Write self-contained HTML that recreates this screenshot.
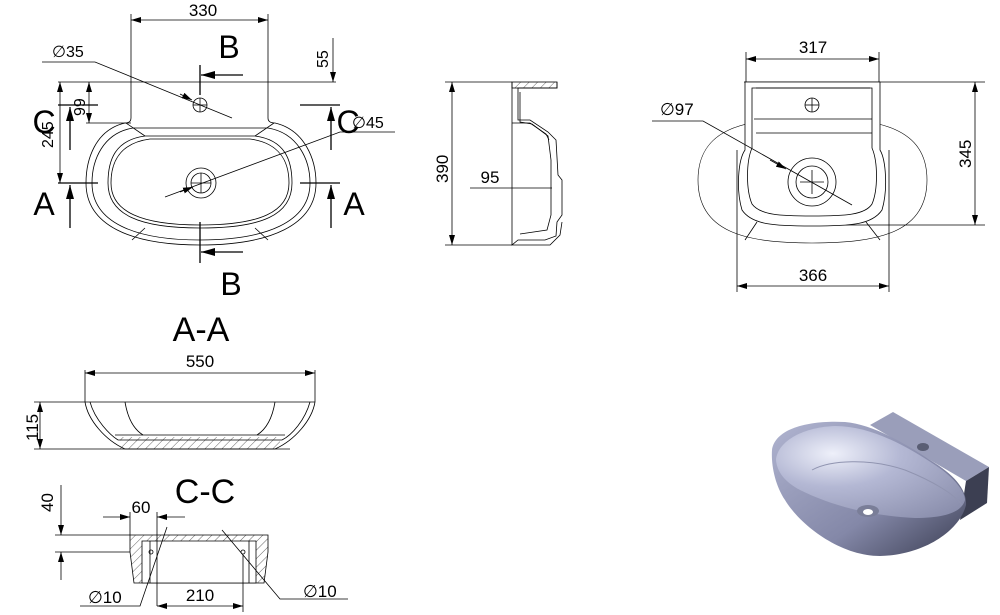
<!DOCTYPE html>
<html><head><meta charset="utf-8"><style>
html,body{margin:0;padding:0;background:#fff;}
svg{display:block;}
text{font-family:"Liberation Sans",sans-serif;fill:#000;}
</style></head><body>
<svg width="1000" height="615" viewBox="0 0 1000 615" xmlns="http://www.w3.org/2000/svg">
<defs>
<marker id="ar" viewBox="0 0 10 6" refX="10" refY="3" markerWidth="10" markerHeight="6" orient="auto-start-reverse" markerUnits="userSpaceOnUse"><path d="M0,0 L10,3 L0,6 z" fill="#000"/></marker>
<marker id="big" viewBox="0 0 14 8" refX="14" refY="4" markerWidth="16" markerHeight="8" orient="auto" markerUnits="userSpaceOnUse"><path d="M0,0 L14,4 L0,8 z" fill="#000"/></marker>
<radialGradient id="g1" cx="0.3" cy="0.3" r="0.9"><stop offset="0" stop-color="#eef0fa"/><stop offset="0.4" stop-color="#b4b8d4"/><stop offset="1" stop-color="#8a8eac"/></radialGradient>
<linearGradient id="g2" x1="0" y1="0" x2="1" y2="1"><stop offset="0" stop-color="#b0b4d0"/><stop offset="0.6" stop-color="#8488a8"/><stop offset="1" stop-color="#3a3d52"/></linearGradient>
<pattern id="h" width="6" height="6" patternUnits="userSpaceOnUse" patternTransform="rotate(45)"><line x1="0" y1="0" x2="0" y2="6" stroke="#000" stroke-width="0.6"/></pattern>
</defs>
<g fill="none" stroke="#000" stroke-width="0.8">
<!-- TOP VIEW -->
<line x1="131" y1="14" x2="131" y2="118"/><line x1="268" y1="14" x2="268" y2="118"/>
<line x1="131" y1="20" x2="268" y2="20" marker-start="url(#ar)" marker-end="url(#ar)"/>
<path d="M131,118 Q131,123 125,123 C95,130 86,160 86,183 C86,225 130,245 200,245 C270,245 316,225 316,183 C316,160 305,130 275,123 Q268,123 268,118"/>
<path d="M133,128 C103,133 92,160 92,183 C92,222 134,240 200,240 C266,240 310,222 310,183 C310,160 298,133 268,128 Z"/>
<path d="M145,136 C115,140 108,160 108,183 C108,215 140,228 200,228 C262,228 292,215 292,183 C292,160 285,140 255,136 Z"/>
<path d="M150,139 C120,143 111,162 111,183 C111,212 142,225 200,225 C260,225 289,212 289,183 C289,162 280,143 250,139 Z"/>
<line x1="126" y1="123" x2="145" y2="136"/><line x1="274" y1="123" x2="255" y2="136"/>
<line x1="132" y1="240" x2="145" y2="228"/><line x1="268" y1="240" x2="255" y2="228"/>
<circle cx="201" cy="183" r="15"/><circle cx="201" cy="183" r="10"/>
<line x1="191" y1="183" x2="211" y2="183"/><line x1="201" y1="173" x2="201" y2="193"/>
<circle cx="200" cy="105" r="7"/>
<line x1="193" y1="105" x2="207" y2="105"/><line x1="200" y1="98" x2="200" y2="112"/>
<line x1="200" y1="65" x2="200" y2="95" stroke-width="1.3"/>
<line x1="243" y1="75" x2="201" y2="75" stroke-width="1.3" marker-end="url(#big)"/>
<line x1="200" y1="222" x2="200" y2="263" stroke-width="1.3"/>
<line x1="243" y1="252" x2="201" y2="252" stroke-width="1.3" marker-end="url(#big)"/>
<line x1="58" y1="183" x2="98" y2="183" stroke-width="1.3"/><line x1="300" y1="183" x2="340" y2="183" stroke-width="1.3"/>
<line x1="70" y1="228" x2="70" y2="185" stroke-width="1.3" marker-end="url(#big)"/>
<line x1="331" y1="228" x2="331" y2="185" stroke-width="1.3" marker-end="url(#big)"/>
<line x1="58" y1="105" x2="98" y2="105" stroke-width="1.3"/><line x1="300" y1="105" x2="340" y2="105" stroke-width="1.3"/>
<line x1="70" y1="150" x2="70" y2="107" stroke-width="1.3" marker-end="url(#big)"/>
<line x1="331" y1="150" x2="331" y2="107" stroke-width="1.3" marker-end="url(#big)"/>
<line x1="58" y1="82" x2="336" y2="82"/>
<line x1="333" y1="38" x2="333" y2="82" marker-end="url(#ar)"/>
<line x1="60" y1="82" x2="60" y2="183" marker-start="url(#ar)" marker-end="url(#ar)"/>
<line x1="89" y1="82" x2="89" y2="123" marker-start="url(#ar)" marker-end="url(#ar)"/>
<line x1="86" y1="123" x2="131" y2="123"/>
<polyline points="42,62 95,62 232,118"/>
<line x1="180" y1="94" x2="192" y2="100" marker-end="url(#ar)"/>
<polyline points="395,132 340,132 165,197"/>
<line x1="180" y1="192" x2="193" y2="187" marker-end="url(#ar)"/>
<!-- SIDE VIEW -->
<line x1="445" y1="82" x2="512" y2="82"/><line x1="445" y1="245" x2="512" y2="245"/>
<line x1="452" y1="82" x2="452" y2="245" marker-start="url(#ar)" marker-end="url(#ar)"/>
<line x1="512" y1="82" x2="512" y2="245"/>
<rect x="512" y="82" width="45" height="6" fill="url(#h)"/>
<path d="M557,82 L557,88 L518,88 L518,120 L530,120 L548,132 L556,140 L558,175 L562,180 L562,215 L557,222 L556,236 L545,240 L518,240 L512,245 L550,245 L560,235 L562,222"/>
<path d="M520,92 L520,122 L532,124 L548,136 L551,160 L551,215 L547,230 L520,234"/>
<path d="M512,123 L530,123 L546,134 L549,140"/>
<line x1="470" y1="188" x2="552" y2="188"/>
<!-- RIGHT VIEW -->
<line x1="746" y1="52" x2="746" y2="82"/><line x1="879" y1="52" x2="879" y2="82"/>
<line x1="746" y1="59" x2="879" y2="59" marker-start="url(#ar)" marker-end="url(#ar)"/>
<line x1="744" y1="82" x2="985" y2="82"/>
<line x1="975" y1="82" x2="975" y2="225" marker-start="url(#ar)" marker-end="url(#ar)"/>
<line x1="812" y1="225" x2="985" y2="225"/>
<path d="M698,180 C698,128 745,118 812,118 C880,118 927,128 927,180 C927,232 880,243 812,243 C745,243 698,232 698,180 Z" stroke-width="0.6"/>
<path d="M745,82 L745,150 C738,160 736,190 742,210 C752,225 775,226 812,226 C850,226 872,225 882,210 C888,190 886,160 880,150 L880,82 Z" fill="#fff"/>
<path d="M752,88 L752,148 C746,162 746,190 752,204 C760,215 780,216 812,216 C845,216 865,215 872,204 C878,190 878,162 872,148 L872,88 Z"/>
<line x1="754" y1="119" x2="872" y2="119"/><line x1="756" y1="133" x2="872" y2="133"/>
<line x1="756" y1="88" x2="870" y2="88"/>
<circle cx="812" cy="105" r="7"/><line x1="805" y1="105" x2="819" y2="105"/><line x1="812" y1="98" x2="812" y2="112"/>
<circle cx="812" cy="182" r="24"/><circle cx="812" cy="182" r="16"/>
<line x1="800" y1="182" x2="824" y2="182"/><line x1="812" y1="170" x2="812" y2="194"/>
<line x1="757" y1="222" x2="745" y2="240"/><line x1="866" y1="222" x2="880" y2="240"/>
<line x1="737" y1="150" x2="737" y2="292"/><line x1="889" y1="150" x2="889" y2="292"/>
<line x1="737" y1="286" x2="889" y2="286" marker-start="url(#ar)" marker-end="url(#ar)"/>
<polyline points="652,121 703,121 852,205"/>
<line x1="770" y1="160" x2="786" y2="169" marker-end="url(#ar)"/>
<!-- A-A -->
<line x1="85" y1="370" x2="85" y2="402"/><line x1="315" y1="370" x2="315" y2="402"/>
<line x1="85" y1="373" x2="315" y2="373" marker-start="url(#ar)" marker-end="url(#ar)"/>
<line x1="34" y1="402" x2="315" y2="402"/>
<line x1="34" y1="449" x2="290" y2="449"/>
<line x1="40" y1="402" x2="40" y2="449" marker-start="url(#ar)" marker-end="url(#ar)"/>
<path d="M85,402 C88,420 105,440 125,449 L275,449 C295,440 312,420 315,402"/>
<path d="M90,402 C95,420 110,435 118,440"/>
<path d="M310,402 C305,420 292,435 282,440"/>
<path d="M125,402 C128,420 135,430 143,435"/><path d="M275,402 C272,420 265,430 257,435"/>
<line x1="115" y1="435" x2="285" y2="435"/>
<rect x="120" y="437" width="160" height="12" fill="url(#h)" stroke="none"/>
<line x1="118" y1="440" x2="282" y2="440"/>
<!-- C-C -->
<path d="M130,535 L268,535 L268,552 L264,583 L134,583 L130,552 Z" fill="url(#h)"/>
<path d="M142,541 L256,541 L256,583 L142,583 Z" fill="#fff"/>
<line x1="150" y1="541" x2="150" y2="583"/><line x1="249" y1="541" x2="249" y2="583"/>
<line x1="55" y1="535" x2="130" y2="535"/><line x1="55" y1="552" x2="130" y2="552"/>
<line x1="61" y1="485" x2="61" y2="535" marker-end="url(#ar)"/>
<line x1="61" y1="580" x2="61" y2="552" marker-end="url(#ar)"/>
<line x1="130" y1="512" x2="130" y2="535"/><line x1="157" y1="512" x2="157" y2="606"/>
<line x1="103" y1="517" x2="130" y2="517" marker-end="url(#ar)"/>
<line x1="185" y1="517" x2="157" y2="517" marker-end="url(#ar)"/>
<line x1="243" y1="555" x2="243" y2="612"/>
<line x1="157" y1="606" x2="243" y2="606" marker-start="url(#ar)" marker-end="url(#ar)"/>
<polyline points="80,606 140,606 167,527"/>
<polyline points="348,599 280,599 222,530"/>
<circle cx="151" cy="552" r="2"/><circle cx="243" cy="552" r="2"/>
</g>
<!-- 3D render -->
<g>
<path d="M870,425 L893,412 L989,467 L966,481 Z" fill="#9a9eba"/>
<path d="M966,481 L989,467 L987,503 L960,520 Z" fill="#3c3f52"/>
<path d="M772,450 C775,428 810,420 845,422 C870,424 900,440 930,460 C955,475 967,490 966,505 C960,530 925,555 880,556 C840,556 800,525 785,500 C775,485 771,465 772,450 Z" fill="url(#g2)"/>
<path d="M776,460 C778,440 805,427 835,426 C870,426 905,445 935,465 C955,478 965,492 965,500 C962,512 945,518 915,518 C870,516 830,505 800,490 C785,482 777,472 776,460 Z" fill="url(#g1)"/>
<path d="M812,470 C830,460 870,458 905,470 C935,482 955,495 962,505" fill="none" stroke="#9094b0" stroke-width="1"/>
<ellipse cx="868" cy="511" rx="11" ry="6" fill="#7a7e98"/><ellipse cx="868" cy="512" rx="5" ry="3" fill="#fff"/>
<ellipse cx="923" cy="447" rx="6" ry="4" fill="#5a5e74"/>
</g>
<!-- text -->
<text x="203" y="16" font-size="17" text-anchor="middle">330</text>
<text x="229" y="58" font-size="32" text-anchor="middle">B</text>
<text x="231" y="295" font-size="32" text-anchor="middle">B</text>
<text x="44" y="215" font-size="32" text-anchor="middle">A</text>
<text x="354" y="215" font-size="32" text-anchor="middle">A</text>
<text x="44" y="133" font-size="32" text-anchor="middle">C</text>
<text x="348" y="133" font-size="32" text-anchor="middle">C</text>
<text x="52" y="57" font-size="16">∅35</text>
<text x="352" y="128" font-size="16">∅45</text>
<text transform="translate(328,68) rotate(-90)" font-size="16">55</text>
<text transform="translate(53,148) rotate(-90)" font-size="16">245</text>
<text transform="translate(85,116) rotate(-90)" font-size="16">99</text>
<text transform="translate(448,183) rotate(-90)" font-size="17">390</text>
<text x="490" y="183" font-size="17" text-anchor="middle">95</text>
<text x="813" y="53" font-size="17" text-anchor="middle">317</text>
<text x="813" y="281" font-size="17" text-anchor="middle">366</text>
<text transform="translate(971,168) rotate(-90)" font-size="17">345</text>
<text x="660" y="115" font-size="17">∅97</text>
<text x="201" y="341" font-size="34" text-anchor="middle">A-A</text>
<text x="200" y="367" font-size="17" text-anchor="middle">550</text>
<text transform="translate(38,441) rotate(-90)" font-size="17">115</text>
<text x="205" y="503" font-size="34" text-anchor="middle">C-C</text>
<text x="141" y="513" font-size="17" text-anchor="middle">60</text>
<text transform="translate(53,512) rotate(-90)" font-size="17">40</text>
<text x="200" y="601" font-size="17" text-anchor="middle">210</text>
<text x="88" y="603" font-size="17">∅10</text>
<text x="303" y="597" font-size="17">∅10</text>
</svg>
</body></html>
